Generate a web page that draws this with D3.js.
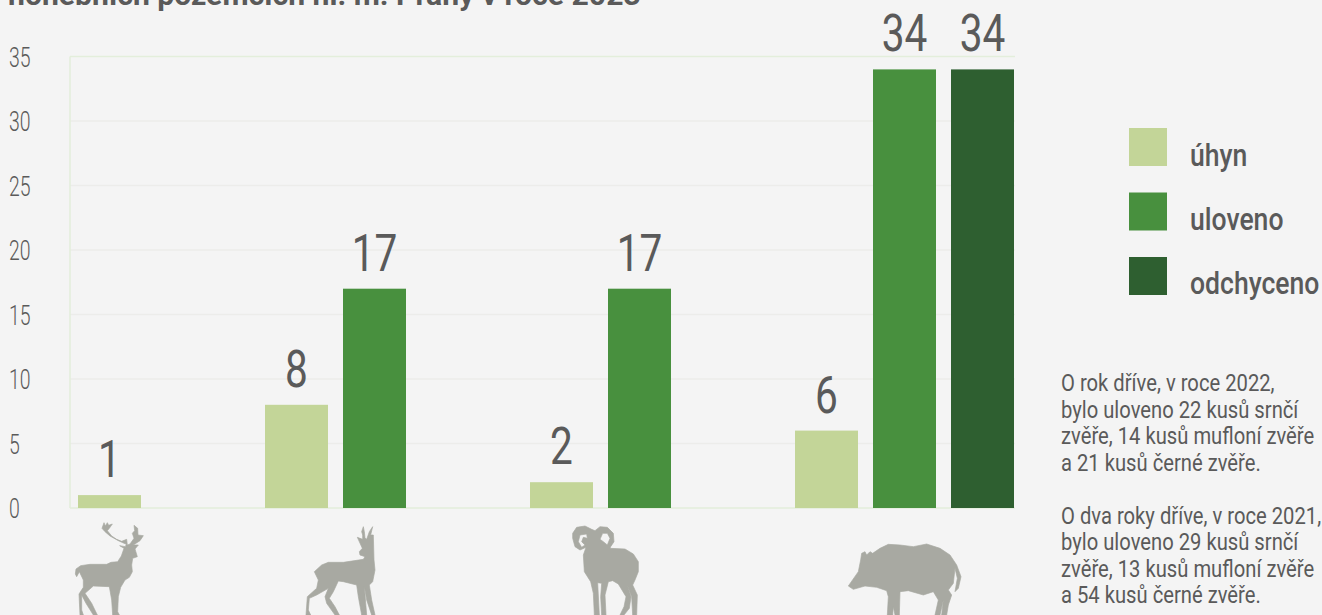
<!DOCTYPE html>
<html>
<head>
<meta charset="utf-8">
<script src="https://cdn.jsdelivr.net/npm/d3@7"></script>
<style>
	html, body { margin: 0; padding: 0; background: #f4f4f4; overflow: hidden; }
	text { font-family: Roboto, sans-serif; fill: #5a5a5a; }
</style>
</head>
<body>
<div id="chart"></div>
<script>
const species = ["jelen", "srnec", "muflon", "prase"];
const series = ["úhyn", "uloveno", "odchyceno"];
const colors = ["#c3d598", "#48903e", "#2e5f30"];
const uhyn = [1, 8, 2, 6];
const uloveno = [null, 17, 17, 34];
const odchyceno = [null, null, null, 34];
const yTicks = [0, 5, 10, 15, 20, 25, 30, 35];
const title = "honebních pozemcích hl. m. Prahy v roce 2023";
const note1 = ["O rok dříve, v roce 2022,", "bylo uloveno 22 kusů srnčí", "zvěře, 14 kusů mufloní zvěře", "a 21 kusů černé zvěře."];
const note2 = ["O dva roky dříve, v roce 2021,", "bylo uloveno 29 kusů srnčí", "zvěře, 13 kusů mufloní zvěře", "a 54 kusů černé zvěře."];

const width = 1322, height = 615;
const svg = d3.select("#chart").append("svg").attr("width", width).attr("height", height);

const y = d3.scaleLinear().domain([0, 35]).range([508, 56.5]);
// groups are not evenly spaced in the original, first one is narrower
const x0 = d3.scaleOrdinal().domain(species).range([78, 265, 530, 795]);
const x1 = d3.scaleBand().domain(series).range([0, 219]).paddingInner(15 / 78);

// narrow text helper, the original font is condensed
function label(sel, x, yy, str, size, weight, sx) {
	return sel.append("text")
		.attr("transform", `translate(${x},${yy}) scale(${sx},1)`)
		.attr("font-size", size)
		.attr("font-weight", weight)
		.text(str);
}

label(svg, 8, 5, title, 29, "bold", 1.04);

// grid
const grid = svg.append("g");
grid.selectAll("line").data(yTicks).enter().append("line")
	.attr("x1", 70).attr("x2", 1015)
	.attr("y1", (d) => y(d)).attr("y2", (d) => y(d))
	.attr("stroke", (d) => (d === 0 || d === 35 ? "#e3eedb" : "#ececea"))
	.attr("stroke-width", 1.5);
grid.append("line").attr("x1", 70).attr("x2", 70)
	.attr("y1", y(35)).attr("y2", y(0))
	.attr("stroke", "#e3eedb").attr("stroke-width", 1.5);

// y axis
yTicks.forEach((d) => {
	label(svg, 9, y(d) + 10, d, 27, 300, 0.72);
});

// bars
[uhyn, uloveno, odchyceno].forEach((values, k) => {
	const g = svg.append("g");
	const rows = species.map((s, i) => ({ s: s, v: values[i] })).filter((d) => d.v !== null);
	g.selectAll("rect").data(rows).enter().append("rect")
		.attr("x", (d) => x0(d.s) + x1(series[k]))
		.attr("y", (d) => y(d.v))
		.attr("width", x1.bandwidth())
		.attr("height", (d) => y(0) - y(d.v))
		.attr("fill", colors[k]);
	g.selectAll("text").data(rows).enter().append("text")
		.attr("transform", (d) => `translate(${x0(d.s) + x1(series[k]) + x1.bandwidth() / 2},${y(d.v) - 18}) scale(0.78,1)`)
		.attr("text-anchor", "middle")
		.attr("font-size", 52)
		.attr("font-weight", 400)
		.text((d) => d.v);
});

// legend
series.forEach((s, i) => {
	svg.append("rect").attr("x", 1129).attr("y", 128 + i * 64.5)
		.attr("width", 38).attr("height", 38).attr("fill", colors[i]);
	label(svg, 1190, 166 + i * 64, s, 32, 500, 0.83);
});

// notes
note1.forEach((t, i) => label(svg, 1061, 391 + i * 26.5, t, 23.5, 400, 0.86));
note2.forEach((t, i) => label(svg, 1061, 524 + i * 26.4, t, 23.5, 400, 0.86));

// animal silhouettes, traced in 3x crop coordinates
const icons = [
	{ ox: 50, d: "M76 222L78 207L92 197L120 193L170 193L183 187L203 185L214 168L222 145L209 137L226 140L229 133L205 122L180 108L165 95L156 85L162 68L166 78L172 68L176 76L187 72L178 85L172 92L185 108L200 118L215 124L230 118L232 135L240 132L252 115L247 100L254 92L252 76L263 85L264 105L280 107L270 122L250 135L265 135L255 147L262 170L248 175L245 195L247 215L238 232L225 240L212 262L205 290L203 335L208 345L188 345L185 300L178 260L130 258L105 280L125 310L142 345L130 345L108 310L95 285L95 330L100 345L90 345L87 282L100 262L100 240L88 215L80 230Z" },
	{ ox: 50, d: "M793 215L815 195L835 187L880 187L940 178L945 170L930 165L928 155L937 145L922 112L938 118L938 105L935 95L940 80L943 95L945 113L950 118L958 95L968 80L962 105L970 105L972 180L975 210L968 245L958 255L965 300L975 345L965 345L950 300L943 258L950 345L935 345L925 290L920 255L880 245L865 243L850 275L838 295L855 320L868 345L855 345L830 310L825 290L835 265L800 285L778 295L775 330L782 345L768 345L772 290L800 265L805 240Z" },
	{ ox: 550, d: "M68 100L80 82L105 78L125 88L135 92L150 80L172 82L190 100L192 125L182 140L180 145L225 147L250 162L265 185L265 215L255 240L248 255L262 285L260 345L248 345L245 290L232 255L243 290L238 325L222 345L210 345L222 320L228 290L205 252L188 242L175 245L165 285L168 345L155 345L152 290L155 250L143 248L148 345L133 345L130 280L122 245L103 215L100 165L108 142L90 150L75 140L68 115ZM150 118L158 100L172 100L180 115L172 135L160 125ZM85 125L90 105L110 102L112 115L100 112L95 125L105 135L95 142Z" },
	{ ox: 550, d: "M895 258L925 215L932 180L935 160L945 155L950 165L960 155L968 160L990 145L1015 133L1050 135L1090 140L1130 132L1170 145L1200 165L1220 195L1233 230L1225 265L1215 275L1222 235L1215 205L1210 250L1195 270L1205 285L1195 315L1190 345L1175 345L1180 300L1170 345L1155 345L1165 300L1150 275L1120 285L1075 272L1050 275L1048 345L1035 345L1030 320L1028 345L1012 345L1015 290L1010 272L980 262L945 258L910 268Z" },
];
svg.append("g").selectAll("path").data(icons).enter().append("path")
	.attr("transform", (d) => `translate(${d.ox},500) scale(${1 / 3})`)
	.attr("d", (d) => d.d)
	.attr("fill", "#a8a9a2")
	.attr("stroke", "#a8a9a2")
	.attr("stroke-width", 2)
	.attr("stroke-linejoin", "round")
	.attr("fill-rule", "evenodd");
</script>
</body>
</html>
